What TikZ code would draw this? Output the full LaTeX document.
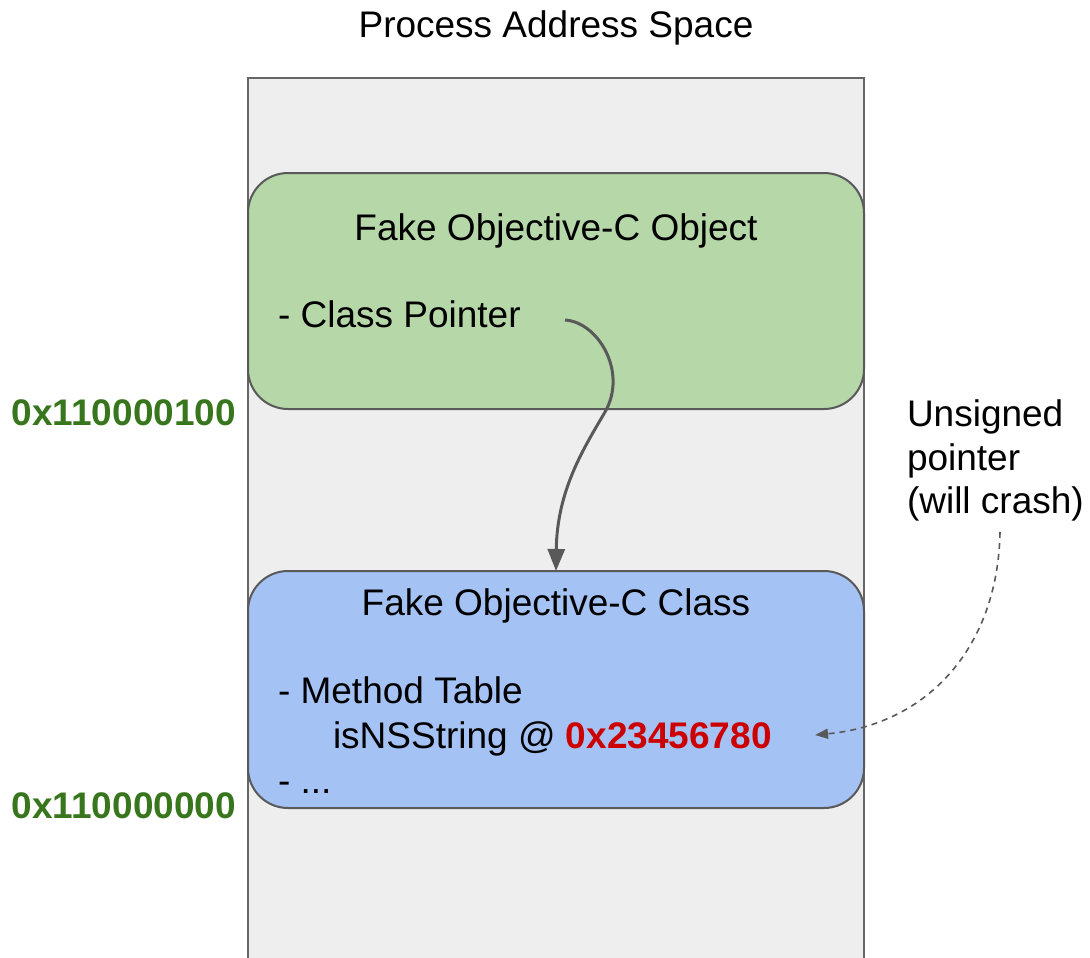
\documentclass[tikz,border=0pt]{standalone}
\usepackage{fontspec}
\setmainfont{Liberation Sans}
\usetikzlibrary{arrows.meta}
\definecolor{spacefill}{HTML}{EEEEEE}
\definecolor{spaceedge}{HTML}{666666}
\definecolor{boxedge}{HTML}{595959}
\definecolor{objfill}{HTML}{B6D7A8}
\definecolor{clsfill}{HTML}{A4C2F4}
\definecolor{addrgreen}{HTML}{38761D}
\definecolor{addrred}{HTML}{CC0000}
\definecolor{arrowgray}{HTML}{595959}
\begin{document}
\begin{tikzpicture}[x=1pt,y=-1pt,
  every node/.style={font=\fontsize{37}{44}\selectfont, inner sep=0pt, outer sep=0pt},
  txt/.style={anchor=base west},
  ctxt/.style={anchor=base},
  addr/.style={anchor=base east, text=addrgreen, font=\fontsize{37}{44}\selectfont\bfseries},
  block/.style={draw=boxedge, line width=2pt, rounded corners=40pt,
    minimum width=616pt, minimum height=236pt},
  pointer/.style={draw=arrowgray, line width=3pt,
    -{Triangle[length=22pt,width=17pt]}},
  weakptr/.style={draw=arrowgray, line width=1.6pt, dash pattern=on 6pt off 5pt,
    -{Triangle[length=13pt,width=10pt]}}]
\useasboundingbox (0,0) rectangle (1090,958);

% address space column, open at the bottom
\node (space) [fill=spacefill, minimum width=616pt, minimum height=880pt] at (556,518) {};
\draw[spaceedge, line width=2pt] (space.south west) -- (space.north west)
  -- (space.north east) -- (space.south east);
\node (title) [ctxt] at (556,38) {Process Address Space};

% fake object
\node (obj) [block, fill=objfill] at (556,291) {};
\node (objname) [ctxt] at (556,240) {Fake Objective-C Object};
\node (clsptr) [txt] at (278,327) {- Class Pointer};

% fake class
\node (cls) [block, fill=clsfill, minimum height=237pt] at (556,689.5) {};
\node (clsname) [ctxt] at (556,615) {Fake Objective-C Class};
\node (mtable) [txt] at (278,703) {- Method Table};
\node (entry) [txt] at (333,748) {isNSString @ \textbf{\color{addrred}0x23456780}};
\node (more) [txt] at (278,793) {- ...};

% addresses
\node (hi) [addr] at (236,425) {0x110000100};
\node (lo) [addr] at (236,818) {0x110000000};

% note
\node (note1) [txt] at (907,426) {Unsigned};
\node (note2) [txt] at (907,470) {pointer};
\node (note3) [txt] at (907,513) {(will crash)};

% connectors
\coordinate (ptrtail) at (565,320);
\draw[pointer] (ptrtail) .. controls (598,322) and (628,372) .. (605,412)
  .. controls (584,448) and (557,490) .. (cls.north);
\coordinate (weaktail) at (1000,532);
\coordinate (weakhead) at (815,735);
\draw[weakptr] (weaktail) .. controls (998,645) and (930,724) .. (weakhead);
\end{tikzpicture}
\end{document}
